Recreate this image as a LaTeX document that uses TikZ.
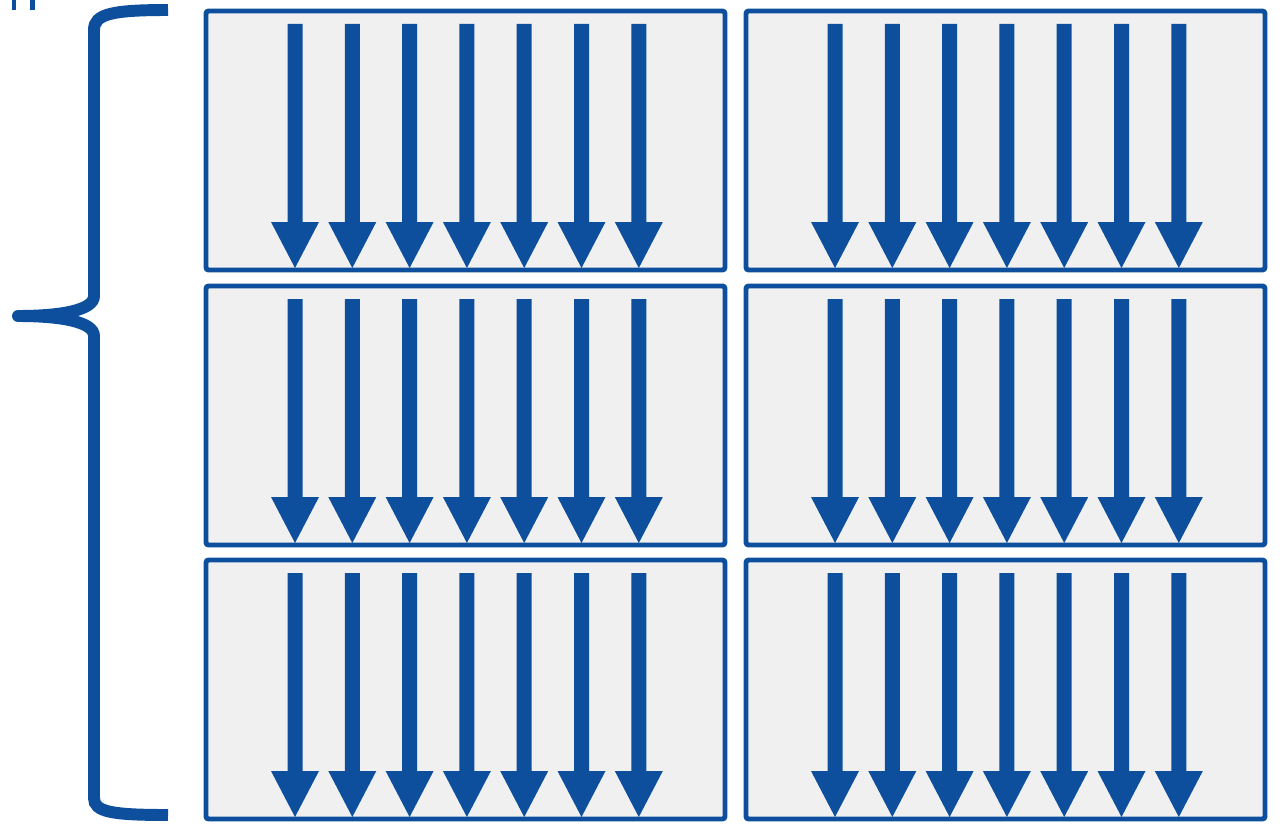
\documentclass[tikz,border=0pt]{standalone}
\usetikzlibrary{calc}

\definecolor{flowblue}{RGB}{13,79,157}
\definecolor{panelgray}{RGB}{240,240,240}

\begin{document}
\begin{tikzpicture}[x=0.02cm,y=-0.02cm,
    panel/.style={draw=flowblue,fill=panelgray,line width=2.8pt,rounded corners=1.5pt},
    flowarrow/.style={fill=flowblue,draw=none},
    bracket/.style={draw=flowblue,line width=6.8pt}]
    % Fix the picture size to the reference
    \useasboundingbox (0,0) rectangle (1280,824);

    % Cut-off marks at the top left
    \fill[flowblue] (12,0) rectangle (16,10);
    \fill[flowblue] (30,0) rectangle (35,10);

    % Curly bracket on the left
    \draw[bracket] (168,10) .. controls (112,10) and (94,14) .. (94,30)
        -- (94,296) .. controls (94,310) and (62,316) .. (18,316);
    \draw[bracket,line cap=round] (18,316) -- (18.1,316);
    \draw[bracket] (18,316) .. controls (62,316) and (94,322) .. (94,336)
        -- (94,798) .. controls (94,812) and (112,815) .. (168,815);

    % Six panels, each with seven downward arrows
    \foreach \px in {206,746} {
      \foreach \py in {11,286,560} {
        \draw[panel] (\px,\py) rectangle ++(519,259);
        \foreach \i in {0,...,6} {
          \coordinate (A) at ($(\px,\py)+(89+57.3*\i,0)$);
          \fill[flowarrow] ($(A)+(-7.5,13)$) -- ($(A)+(7.5,13)$)
            -- ($(A)+(7.5,211)$) -- ($(A)+(24,211)$)
            -- ($(A)+(0,257)$) -- ($(A)+(-24,211)$)
            -- ($(A)+(-7.5,211)$) -- cycle;
        }
      }
    }

\end{tikzpicture}
\end{document}
